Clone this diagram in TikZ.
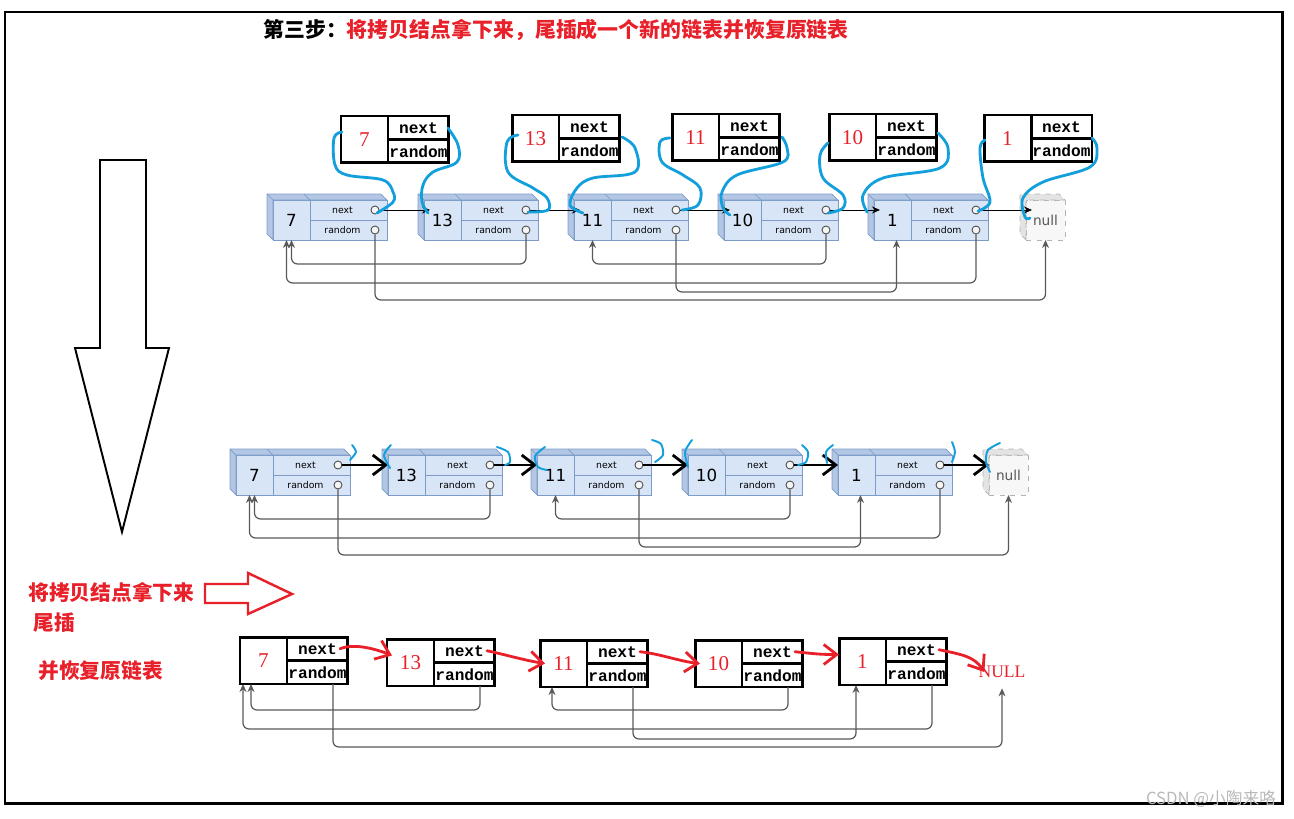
\documentclass[tikz,border=0pt]{standalone}
\usepackage{fontspec}
\setmainfont{Liberation Serif}
\setsansfont{DejaVu Sans}
\setmonofont{Liberation Mono}
\newfontfamily\cjk{Noto Sans CJK SC}
\usetikzlibrary{arrows.meta, positioning}

\definecolor{cellblue}{HTML}{D8E5F7}
\definecolor{sideblue}{HTML}{B3C7E5}
\definecolor{edgeblue}{HTML}{7D9BC9}
\definecolor{penblue}{HTML}{139FDB}
\definecolor{penred}{HTML}{E8202A}

% old list node (3d look): name, x, y, value
\newcommand{\listnode}[4]{%
  \node[valbox] (#1) at (#2,#3) {#4};
  \node[fieldbox] (#1n) at (#1.north east) {next};
  \node[fieldbox] (#1r) at (#1n.south west) {random};
  \draw[face] (#1.south west) -- ([shift={(-6,-6)}]#1.south west) -- ([shift={(-6,-6)}]#1.north west)
    -- ([shift={(-6,-6)}]#1n.north east) -- (#1n.north east) -- (#1.north west) -- cycle;
  \draw[edgeblue] (#1.north west) -- ++(-6,-6) (#1.north east) -- ++(-6,-6);
  \node[port] (#1pn) at ([xshift=-0.24cm]#1n.east) {};
  \node[port] (#1pr) at ([xshift=-0.24cm]#1r.east) {};
}
% null node: name, x, y
\newcommand{\nullnode}[3]{%
  \node[nullbox] (#1) at (#2,#3) {null};
  \draw[face, fill=gray!22, draw=gray!60, dashed] (#1.south west) -- ([shift={(-6,-6)}]#1.south west)
    -- ([shift={(-6,-6)}]#1.north west) -- ([shift={(-6,-6)}]#1.north east) -- (#1.north east) -- (#1.north west) -- cycle;
}
% copied node with black frame: name, x, y, value
\newcommand{\copynode}[4]{%
  \node[copyval] (#1) at (#2,#3) {#4};
  \node[copyfield] (#1n) at (#1.north east) {next};
  \node[copyfield] (#1r) at (#1n.south west) {random};
  \coordinate (#1o) at ([xshift=-0.3cm]#1r.south east);
}

\begin{document}
\begin{tikzpicture}[x=0.02cm, y=-0.02cm,
    valbox/.style={rectangle, draw=edgeblue, fill=cellblue, anchor=north west, minimum width=0.74cm, minimum height=0.8cm, inner sep=0pt, outer sep=0pt, font=\sffamily\fontsize{9.5}{11}\selectfont},
    fieldbox/.style={valbox, minimum width=1.54cm, minimum height=0.4cm, font=\sffamily\fontsize{5.3}{6}\selectfont, execute at end node={\hspace*{0.24cm}}},
    face/.style={draw=edgeblue, fill=sideblue, line join=round},
    nullbox/.style={rectangle, draw=gray!60, dashed, fill=gray!6, anchor=north west, minimum width=0.78cm, minimum height=0.8cm, inner sep=0pt, outer sep=0pt, text=gray!70!black, font=\sffamily\fontsize{7.8}{9}\selectfont},
    port/.style={circle, draw=gray!60!black, fill=gray!8, minimum size=0.16cm, inner sep=0pt, line width=0.5pt},
    copyval/.style={rectangle, draw, line width=1.7pt, fill=white, anchor=north west, minimum width=0.94cm, minimum height=0.94cm, inner sep=0pt, outer sep=0pt, text=penred, font=\fontsize{12}{14}\selectfont},
    copyfield/.style={copyval, minimum width=1.22cm, minimum height=0.47cm, text=black, font=\ttfamily\bfseries\fontsize{9.2}{11}\selectfont},
    redtext/.style={anchor=west, inner sep=0pt, text=penred, font=\cjk\bfseries\fontsize{11.8}{14}\selectfont},
    nextarrow/.style={-{Stealth[length=1.6mm, width=1.4mm]}, line width=0.5pt},
    randarrow/.style={-{Stealth[length=1.6mm, width=1.4mm]}, draw=black!65, line width=0.7pt, rounded corners=0.12cm},
    inkarrow/.style={-{Straight Barb[length=2.6mm, width=4mm]}, line width=1.6pt, line cap=round},
    redarrow/.style={inkarrow, draw=penred},
    scribble/.style={draw=penblue, line width=1.6pt, line cap=round, line join=round}
]
    \useasboundingbox (0,0) rectangle (1294,818);

    % Title
    \node[anchor=west, inner sep=0pt, font=\cjk\bfseries\fontsize{11.9}{14}\selectfont] (title) at (263,30) {第三步：\textcolor{penred}{将拷贝结点拿下来，尾插成一个新的链表并恢复原链表}};

    % Old list with copies hooked in
    \listnode{a7}{273}{200}{7}
    \listnode{a13}{424}{200}{13}
    \listnode{a11}{574}{200}{11}
    \listnode{a10}{724}{200}{10}
    \listnode{a1}{874}{200}{1}
    \nullnode{anull}{1026}{200}

    \draw[nextarrow, shorten >=-0.12cm] (a7pn) -- (a7pn -| a13.west);
    \draw[nextarrow, shorten >=-0.12cm] (a13pn) -- (a13pn -| a11.west);
    \draw[nextarrow, shorten >=-0.12cm] (a11pn) -- (a11pn -| a10.west);
    \draw[nextarrow, shorten >=-0.12cm] (a10pn) -- (a10pn -| a1.west);
    \draw[nextarrow, shorten >=-0.12cm] (a1pn) -- (a1pn -| anull.west);

    \draw[randarrow] (a13pr.south) -- (a13pr |- 0,264) -| (a7.south);
    \draw[randarrow] (a10pr.south) -- (a10pr |- 0,264) -| (a11.south);
    \draw[randarrow] (a1pr.south) -- (a1pr |- 0,283) -| ([xshift=-0.1cm]a7.south);
    \draw[randarrow] (a11pr.south) -- (a11pr |- 0,292) -| ([xshift=0.08cm]a1.south);
    \draw[randarrow] (a7pr.south) -- (a7pr |- 0,300) -| (anull.south);

    \copynode{k7}{341}{116}{7}
    \copynode{k13}{512}{115}{13}
    \copynode{k11}{672}{114}{11}
    \copynode{k10}{829}{114}{10}
    \copynode{k1}{984}{115}{1}

    % hand drawn links
    \draw[scribble] plot[smooth, tension=0.6] coordinates {(342,132) (334,138) (335,165) (347,175) (383,180) (393,192) (393,202) (377,213)};
    \draw[scribble] plot[smooth, tension=0.6] coordinates {(448,128) (458,145) (457,162) (433,172) (423,185) (422,202) (428,213)};
    \draw[scribble] plot[smooth, tension=0.6] coordinates {(518,135) (507,142) (508,172) (533,188) (547,198) (548,210) (528,212)};
    \draw[scribble] plot[smooth, tension=0.6] coordinates {(622,137) (635,148) (635,172) (593,178) (577,188) (570,205) (583,213)};
    \draw[scribble] plot[smooth, tension=0.6] coordinates {(670,138) (660,142) (662,162) (683,175) (700,188) (698,205) (682,210)};
    \draw[scribble] plot[smooth, tension=0.6] coordinates {(782,137) (787,148) (783,162) (737,175) (722,192) (723,208) (730,215)};
    \draw[scribble] plot[smooth, tension=0.6] coordinates {(828,143) (820,155) (823,178) (843,195) (843,208) (828,213)};
    \draw[scribble] plot[smooth, tension=0.6] coordinates {(938,133) (948,148) (940,168) (883,178) (863,195) (867,212)};
    \draw[scribble] plot[smooth, tension=0.6] coordinates {(985,140) (980,148) (983,178) (990,202) (978,211)};
    \draw[scribble] plot[smooth, tension=0.6] coordinates {(1092,138) (1097,148) (1090,167) (1043,182) (1023,198) (1025,217) (1030,218)};

    % Big arrow down
    \draw[line width=1.1pt, fill=white] (100,160) -- (146,160) -- (146,348) -- (169,348) -- (122,532) -- (75,348) -- (100,348) -- cycle;

    % Old list restored
    \listnode{b7}{236}{455}{7}
    \listnode{b13}{388}{455}{13}
    \listnode{b11}{537}{455}{11}
    \listnode{b10}{688}{455}{10}
    \listnode{b1}{838}{455}{1}
    \nullnode{bnull}{989}{455}

    \draw[inkarrow] (b7pn) -- (b7pn -| b13.west);
    \draw[inkarrow] (b13pn) -- (b13pn -| b11.west);
    \draw[inkarrow] (b11pn) -- (b11pn -| b10.west);
    \draw[inkarrow] (b10pn) -- (b10pn -| b1.west);
    \draw[inkarrow] (b1pn) -- (b1pn -| bnull.west);

    \draw[randarrow] (b13pr.south) -- (b13pr |- 0,519) -| (b7.south);
    \draw[randarrow] (b10pr.south) -- (b10pr |- 0,519) -| (b11.south);
    \draw[randarrow] (b1pr.south) -- (b1pr |- 0,538) -| ([xshift=-0.1cm]b7.south);
    \draw[randarrow] (b11pr.south) -- (b11pr |- 0,547) -| ([xshift=0.08cm]b1.south);
    \draw[randarrow] (b7pr.south) -- (b7pr |- 0,555) -| (bnull.south);

    \begin{scope}[scribble, line width=1.1pt]
        \draw plot[smooth] coordinates {(352,445) (356,452) (350,460)};
        \draw plot[smooth] coordinates {(391,445) (384,455) (390,468)};
        \draw plot[smooth] coordinates {(497,447) (508,452) (510,462) (505,465)};
        \draw plot[smooth] coordinates {(545,447) (535,456) (538,467) (547,470)};
        \draw plot[smooth] coordinates {(652,440) (661,444) (663,455) (655,462)};
        \draw plot[smooth] coordinates {(692,440) (685,452) (688,467)};
        \draw plot[smooth] coordinates {(802,445) (808,452) (806,462) (798,465)};
        \draw plot[smooth] coordinates {(833,445) (826,452) (827,463)};
        \draw plot[smooth] coordinates {(952,442) (955,452) (952,462)};
        \draw plot[smooth] coordinates {(1000,443) (988,450) (986,462) (990,472)};
    \end{scope}

    % Labels and red arrow
    \node[redtext] (take) at (28,592) {将拷贝结点拿下来};
    \node[redtext] (tail) at (33,623) {尾插};
    \node[redtext] (restore) at (38,671) {并恢复原链表};
    \draw[penred, line width=1.4pt, line join=miter] (205,584) -- (248,584) -- (248,573) -- (292,594) -- (248,614) -- (248,603) -- (205,603) -- cycle;

    % New list
    \copynode{c7}{240}{637}{7}
    \copynode{c13}{387}{639}{13}
    \copynode{c11}{540}{640}{11}
    \copynode{c10}{695}{640}{10}
    \copynode{c1}{839}{638}{1}
    \node[text=penred, font=\fontsize{10}{12}\selectfont, minimum height=0.64cm] (cnull) at (1002,672) {NULL};

    \draw[redarrow] ([xshift=-0.16cm]c7n.east) .. controls +(15,-6) and +(-15,-6) .. ([xshift=0.1cm, yshift=0.14cm]c13.west);
    \draw[redarrow] ([xshift=-0.16cm]c13n.east) .. controls +(15,3) and +(-20,-3) .. ([xshift=0.1cm]c11.west);
    \draw[redarrow] ([xshift=-0.16cm]c11n.east) .. controls +(20,2) and +(-20,-2) .. ([xshift=0.1cm]c10.west);
    \draw[redarrow] ([xshift=-0.16cm]c10n.east) .. controls +(20,2) and +(-20,0) .. ([yshift=0.14cm]c1.west);
    \draw[redarrow] ([xshift=-0.16cm]c1n.east) .. controls +(25,5) and +(-10,-15) .. ([xshift=0.24cm]cnull.west);

    \draw[randarrow] (c13o) -- (c13o |- 0,710) -| ([xshift=0.22cm]c7.south west);
    \draw[randarrow] (c10o) -- (c10o |- 0,710) -| ([xshift=0.24cm]c11.south west);
    \draw[randarrow] (c1o) -- (c1o |- 0,729) -| ([xshift=0.06cm]c7.south west);
    \draw[randarrow] (c11o) -- (c11o |- 0,739) -| ([xshift=0.34cm]c1.south west);
    \draw[randarrow] (c7o) -- (c7o |- 0,747) -| (cnull.south);

    % Frame and mark
    \draw[line width=1.7pt] (5,12) rectangle (1282,803);
    \node[text=gray!55, font=\cjk\fontsize{9.5}{11}\selectfont] (mark) at (1211,799) {CSDN @小陶来咯};
\end{tikzpicture}
\end{document}
